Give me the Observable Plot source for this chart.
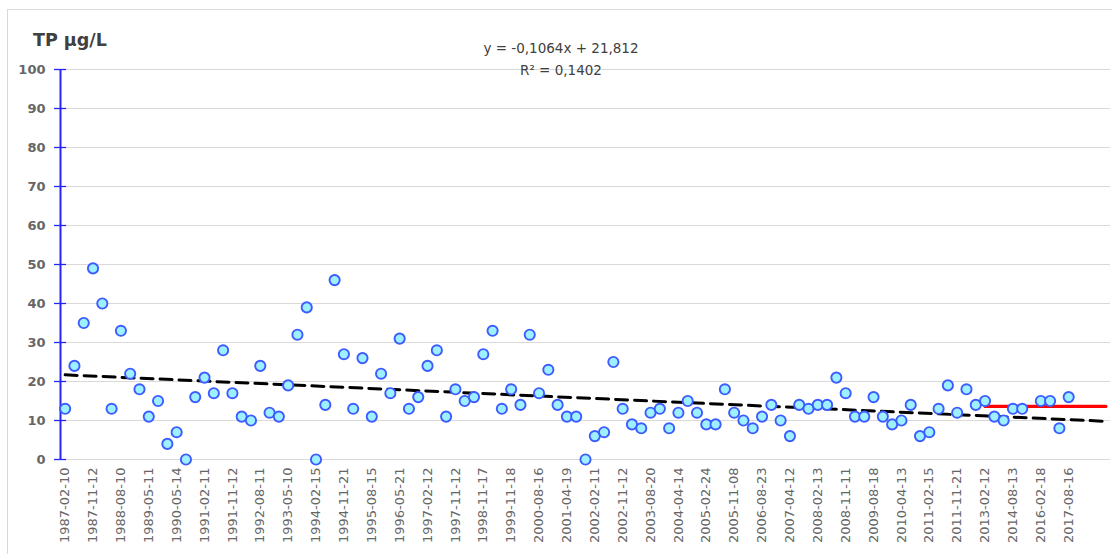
<!DOCTYPE html>
<html><head><meta charset="utf-8">
<script src="https://cdn.jsdelivr.net/npm/d3@7"></script>
<script src="https://cdn.jsdelivr.net/npm/@observablehq/plot@0.6"></script>
<style>
body{margin:0;background:#fff;}
#wrap{position:relative;width:1112px;height:554px;overflow:hidden;font-family:"DejaVu Sans",sans-serif;}
#border{position:absolute;left:7px;top:9px;width:1120px;height:560px;border:1px solid #d9d9d9;}
#title{position:absolute;left:33px;top:29px;font-weight:bold;font-size:17.5px;line-height:22px;color:#404040;}
#eq{position:absolute;left:561px;top:37px;transform:translateX(-50%);text-align:center;font-size:13.5px;color:#404040;line-height:22px;white-space:nowrap;}
#chart{position:absolute;left:0;top:0;}
</style></head>
<body>
<div id="wrap">
  <div id="border"></div>
  <div id="chart"></div>
  <div id="title">TP µg/L</div>
  <div id="eq">y = -0,1064x + 21,812<br>R² = 0,1402</div>
</div>
<script>
// Category tick labels (every third sampling date)
const dateLabels = ["1987-02-10","1987-11-12","1988-08-10","1989-05-11","1990-05-14","1991-02-11","1991-11-12","1992-08-11","1993-05-10","1994-02-15","1994-11-21","1995-08-15","1996-05-21","1997-02-12","1997-11-12","1998-11-17","1999-11-18","2000-08-16","2001-04-19","2002-02-11","2002-11-12","2003-08-20","2004-04-14","2005-02-24","2005-11-08","2006-08-23","2007-04-12","2008-02-13","2008-11-11","2009-08-18","2010-04-13","2011-02-15","2011-11-21","2013-02-12","2014-08-13","2016-02-18","2017-08-16"];
const labelStep = 3;
const nCategories = 113;
// TP values (µg/L), one per category; null = no sample
const tpValues = [13,24,35,49,40,13,33,22,18,11,
  15,4,7,0,16,21,17,28,17,11,
  10,24,12,11,19,32,39,0,14,46,
  27,13,26,11,22,17,31,13,16,24,
  28,11,18,15,16,27,33,13,18,14,
  32,17,23,14,11,11,0,6,7,25,
  13,9,8,12,13,8,12,15,12,9,
  9,18,12,10,8,11,14,10,6,14,
  13,14,14,21,17,11,11,16,11,9,
  10,14,6,7,13,19,12,18,14,15,
  11,10,13,13,null,15,15,8,16];
// Linear trend shown on chart: y = slope*x + intercept (x = 1-based category)
const trendSlope = -0.1064;
const trendIntercept = 21.812;
// Red reference level
const refLevel = 13.6;
const refStartIndex = 99;
const yTicks = [0,10,20,30,40,50,60,70,80,90,100];

const points = tpValues.map((v, i) => ({i, v})).filter(d => d.v != null);
const trend = [0, nCategories - 1].map(i => ({i, v: trendSlope * (i + 1) + trendIntercept}));
const ref = [refStartIndex, nCategories - 1].map(i => ({i, v: refLevel}));
const xTicks = dateLabels.map((d, k) => k * labelStep);

const chart = Plot.plot({
  width: 1112, height: 554,
  marginLeft: 60, marginRight: 2, marginTop: 69, marginBottom: 95,
  style: {fontFamily: "DejaVu Sans, sans-serif", fontSize: "13px", color: "#595959", background: "transparent"},
  x: {type: "linear", domain: [-0.5, nCategories - 0.5]},
  y: {domain: [0, 100]},
  marks: [
    Plot.ruleY(yTicks, {stroke: "#d9d9d9", strokeWidth: 1.2}),
    Plot.axisX({ticks: xTicks, tickFormat: i => dateLabels[i / labelStep], tickRotate: -90, tickSize: 0, tickPadding: 8, fontSize: 13, fill: "#666", label: null}),
    Plot.axisY({ticks: yTicks, tickSize: 0, tickPadding: 15, fontWeight: "bold", fontSize: 13, fill: "#666", label: null}),
    Plot.axisY({ticks: yTicks, tickSize: 12, dx: 6, stroke: "#2424ff", strokeWidth: 1.3, fill: "none", label: null}),
    Plot.ruleX([-0.5], {stroke: "#2424ff", strokeWidth: 2}),
    Plot.line(trend, {x: "i", y: "v", stroke: "#000", strokeWidth: 3, strokeDasharray: "12,7"}),
    Plot.line(ref, {x: "i", y: "v", stroke: "#ff0000", strokeWidth: 3.2}),
    Plot.dot(points, {x: "i", y: "v", r: 5.1, fill: "#9ef0ff", stroke: "#3d5cff", strokeWidth: 1.9})
  ]
});
document.getElementById("chart").appendChild(chart);
</script>
</body></html>
